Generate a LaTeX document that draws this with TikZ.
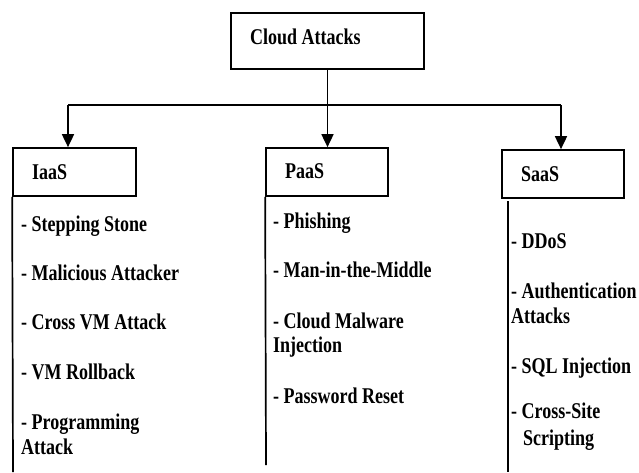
\documentclass[tikz,border=0pt]{standalone}
\usepackage{fontspec}
\setmainfont{Liberation Serif}[FakeStretch=0.80]
\usetikzlibrary{arrows.meta}
\tikzset{
  box/.style={draw, line width=1.7pt, inner sep=0pt},
  conn/.style={line width=1.7pt},
  arr/.style={conn, -{Triangle[width=12pt,length=13pt]}},
  lbl/.style={anchor=base west, inner sep=0pt, font=\fontsize{22.5}{26}\selectfont\bfseries},
}
\begin{document}
\begin{tikzpicture}[x=1pt,y=-1pt]
\useasboundingbox (0,0) rectangle (639,472);
% boxes
\node[box, minimum width=193pt, minimum height=56pt] (top) at (327.5,41) {};
\node[box, minimum width=123pt, minimum height=48pt] (iaas) at (74.5,172) {};
\node[box, minimum width=122pt, minimum height=48pt] (paas) at (327,172) {};
\node[box, minimum width=122pt, minimum height=48pt] (saas) at (563,174) {};
% box labels
\node[lbl] (ttop) at (250,44) {Cloud Attacks};
\node[lbl] (tiaas) at (32,179) {IaaS};
\node[lbl] (tpaas) at (285,178) {PaaS};
\node[lbl] (tsaas) at (521,181) {SaaS};
% connectors
\coordinate (busL) at (68,105);
\coordinate (busR) at (561,105);
\draw[conn] (busL) -- (busR);
\draw[arr] (busL) -- (busL |- iaas.north);
\draw[arr] (busR) -- (busR |- saas.north);
\draw[arr] (top.south) -- (top.south |- paas.north);
% side lines
\coordinate (iend) at (13,472);
\coordinate (pend) at (266,465);
\coordinate (sstart) at (508,201);
\coordinate (send) at (508,472);
\draw[conn] (iaas.south west) -- (iend);
\draw[conn] (paas.south west) -- (pend);
\draw[conn] (sstart) -- (send);
% IaaS items
\node[lbl] (i1) at (21,231) {- Stepping Stone};
\node[lbl] (i2) at (21,280) {- Malicious Attacker};
\node[lbl] (i3) at (21,329) {- Cross VM Attack};
\node[lbl] (i4) at (21,379) {- VM Rollback};
\node[lbl] (i5) at (21,429) {- Programming};
\node[lbl] (i5b) at (21,454) {Attack};
% PaaS items
\node[lbl] (p1) at (273,228) {- Phishing};
\node[lbl] (p2) at (273,277) {- Man-in-the-Middle};
\node[lbl] (p3) at (273,328) {- Cloud Malware};
\node[lbl] (p3b) at (273,352) {Injection};
\node[lbl] (p4) at (273,403) {- Password Reset};
% SaaS items
\node[lbl] (s1) at (511,248) {- DDoS};
\node[lbl] (s2) at (511,298) {- Authentication};
\node[lbl] (s2b) at (511,323) {Attacks};
\node[lbl] (s3) at (511,373) {- SQL Injection};
\node[lbl] (s4) at (511,418) {- Cross-Site};
\node[lbl] (s4b) at (523,445) {Scripting};
\end{tikzpicture}
\end{document}
